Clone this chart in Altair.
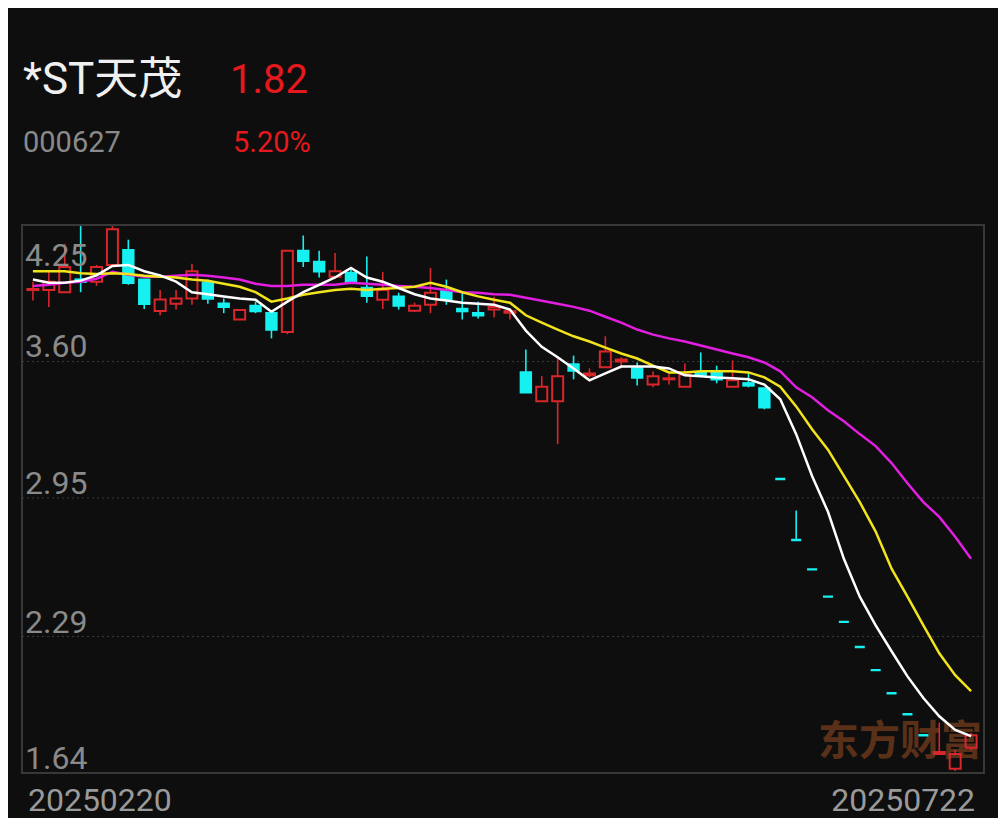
import altair as alt
import pandas as pd

# ---- data ----
opens = [3.94, 3.94, 3.93, 3.99, 3.98, 4.06, 4.13, 3.99, 3.84, 3.875,
         3.90, 3.975, 3.875, 3.80, 3.865, 3.83, 3.74, 4.127, 4.074, 4.003,
         4.022, 3.95, 3.894, 3.908, 3.842, 3.87, 3.937, 3.85, 3.83, 3.847,
         3.832, 3.548, 3.41, 3.41, 3.586, 3.534, 3.572, 3.60, 3.567, 3.49,
         3.515, 3.48, 3.548, 3.548, 3.48, 3.496, 3.472, 3.04, 2.75, 2.61,
         2.48, 2.36, 2.24, 2.13, 2.02, 1.92, 1.82, 1.73, 1.66, 1.76]
highs = [3.98, 4.03, 4.16, 4.245, 4.06, 4.245, 4.18, 3.99, 3.94, 3.94,
         4.065, 3.99, 3.90, 3.845, 3.885, 3.835, 4.13, 4.20, 4.127, 4.117,
         4.04, 4.10, 4.027, 3.927, 3.88, 4.046, 3.99, 3.93, 3.885, 3.908,
         3.845, 3.657, 3.53, 3.62, 3.628, 3.567, 3.72, 3.62, 3.595, 3.552,
         3.54, 3.59, 3.643, 3.58, 3.605, 3.548, 3.472, 3.04, 2.89, 2.61,
         2.48, 2.36, 2.24, 2.13, 2.02, 1.92, 1.82, 1.88, 1.75, 1.83]
lows = [3.89, 3.86, 3.93, 3.93, 3.96, 4.06, 3.965, 3.85, 3.82, 3.847,
        3.87, 3.875, 3.83, 3.80, 3.83, 3.71, 3.73, 4.05, 4.0, 3.994,
        3.98, 3.88, 3.85, 3.847, 3.835, 3.83, 3.87, 3.80, 3.805, 3.81,
        3.80, 3.453, 3.41, 3.206, 3.515, 3.524, 3.572, 3.567, 3.486, 3.477,
        3.49, 3.48, 3.53, 3.496, 3.477, 3.477, 3.372, 3.04, 2.75, 2.61,
        2.48, 2.36, 2.24, 2.13, 2.02, 1.92, 1.82, 1.73, 1.65, 1.75]
closes = [3.945, 3.98, 4.05, 3.98, 4.05, 4.23, 3.975, 3.875, 3.895, 3.90,
          4.03, 3.90, 3.86, 3.845, 3.84, 3.752, 4.127, 4.08, 4.03, 4.03,
          3.98, 3.913, 3.94, 3.866, 3.866, 3.927, 3.894, 3.84, 3.82, 3.86,
          3.84, 3.453, 3.48, 3.53, 3.557, 3.543, 3.647, 3.61, 3.524, 3.53,
          3.52, 3.538, 3.538, 3.515, 3.51, 3.486, 3.382, 3.04, 2.75, 2.61,
          2.48, 2.36, 2.24, 2.13, 2.02, 1.92, 1.82, 1.74, 1.73, 1.82]
ma5 = [3.99, 3.975, 3.975, 3.985, 4.01, 4.055, 4.06, 4.03, 4.01, 3.98,
       3.93, 3.92, 3.91, 3.90, 3.894, 3.837, 3.885, 3.93, 3.965, 4.0,
       4.045, 4.0, 3.98, 3.95, 3.92, 3.90, 3.89, 3.88, 3.875, 3.87,
       3.847, 3.747, 3.67, 3.62, 3.567, 3.51, 3.543, 3.576, 3.576, 3.576,
       3.567, 3.534, 3.53, 3.524, 3.52, 3.515, 3.49, 3.42, 3.254, 3.055,
       2.884, 2.66, 2.48, 2.343, 2.22, 2.10, 1.997, 1.91, 1.845, 1.816]
ma10 = [4.03, 4.03, 4.03, 4.02, 4.017, 4.02, 4.017, 4.008, 4.003, 4.0,
        3.99, 3.984, 3.97, 3.956, 3.93, 3.885, 3.90, 3.918, 3.93, 3.94,
        3.946, 3.94, 3.946, 3.95, 3.956, 3.975, 3.956, 3.93, 3.91, 3.894,
        3.88, 3.82, 3.785, 3.752, 3.72, 3.695, 3.666, 3.638, 3.614, 3.58,
        3.548, 3.548, 3.553, 3.553, 3.553, 3.548, 3.524, 3.48, 3.386, 3.277,
        3.18, 3.055, 2.93, 2.79, 2.613, 2.48, 2.343, 2.21, 2.106, 2.03]
ma20 = [3.96, 3.965, 3.975, 3.98, 3.994, 4.027, 4.013, 4.003, 4.003, 4.008,
        4.013, 4.008, 4.0, 3.99, 3.97, 3.96, 3.96, 3.965, 3.965, 3.965,
        3.975, 3.97, 3.965, 3.96, 3.956, 3.95, 3.94, 3.93, 3.927, 3.92,
        3.918, 3.904, 3.889, 3.875, 3.86, 3.842, 3.813, 3.785, 3.752, 3.728,
        3.71, 3.695, 3.676, 3.657, 3.638, 3.62, 3.595, 3.553, 3.477, 3.43,
        3.368, 3.315, 3.254, 3.197, 3.116, 3.02, 2.93, 2.86, 2.765, 2.66]
y_ticks = [4.25, 3.60, 2.95, 2.29, 1.64]
grid_vals = [3.60, 2.95, 2.29]
date_labels = ["20250220", "20250722"]
stock_name = "*ST天茂"
stock_code = "000627"
last_price = "1.82"
change_pct = "5.20%"
watermark = "东方财富"

# ---- styling ----
BG = "#0e0e0e"
RED = "#d8262b"
CYAN = "#16f0f0"
WHITE = "#ffffff"
YELLOW = "#f2e41c"
MAGENTA = "#e21ee0"
GRAY = "#8a8a8a"
TITLE_RED = "#e5191d"
FONT = "Roboto, 'Noto Sans CJK SC', sans-serif"

n = len(closes)
up = []
for k in range(n):
    o, c = opens[k], closes[k]
    if c > o:
        up.append(True)
    elif c < o:
        up.append(False)
    else:
        up.append(k == 0 or c >= closes[k - 1])

df = pd.DataFrame({
    "i": list(range(n)), "open": opens, "high": highs, "low": lows,
    "close": closes, "up": up, "ma5": ma5, "ma10": ma10, "ma20": ma20,
})
df["top"] = df[["open", "close"]].max(axis=1)
df["bot"] = df[["open", "close"]].min(axis=1)

xs = alt.Scale(domain=[-0.373, 59.498], nice=False, zero=False)
ys = alt.Scale(domain=[1.64, 4.25], nice=False, zero=False)
X = alt.X("i:Q", scale=xs, axis=None)

base = alt.Chart(df)

grid = alt.Chart(pd.DataFrame({"v": grid_vals})).mark_rule(
    color="#3a3a3a", strokeWidth=1, strokeDash=[2, 3]
).encode(y=alt.Y("v:Q", scale=ys, axis=None))

wm = alt.Chart(pd.DataFrame({"t": [watermark]})).mark_text(
    font="'Noto Sans CJK SC'", fontSize=41, fontWeight="bold",
    color="#5a3019", align="center", baseline="middle"
).encode(x=alt.value(878), y=alt.value(518), text="t:N")

col = alt.condition("datum.up", alt.value(RED), alt.value(CYAN))
wick_hi = base.mark_rule(strokeWidth=1.6).encode(
    x=X, y=alt.Y("top:Q", scale=ys, axis=None), y2="high:Q", color=col)
wick_lo = base.mark_rule(strokeWidth=1.6).encode(
    x=X, y=alt.Y("low:Q", scale=ys, axis=None), y2="bot:Q", color=col)

body_up = base.transform_filter("datum.up").mark_bar(
    size=11, fillOpacity=0, stroke=RED, strokeWidth=2
).encode(x=X, y=alt.Y("bot:Q", scale=ys, axis=None), y2="top:Q")
body_dn = base.transform_filter("!datum.up").mark_bar(
    size=10, color=CYAN, stroke=CYAN, strokeWidth=2.4
).encode(x=X, y=alt.Y("bot:Q", scale=ys, axis=None), y2="top:Q")

def ma_line(field, color):
    return base.mark_line(color=color, strokeWidth=2.5).encode(
        x=X, y=alt.Y(f"{field}:Q", scale=ys, axis=None))

lines = ma_line("ma20", MAGENTA) + ma_line("ma10", YELLOW) + ma_line("ma5", WHITE)

tick_df = pd.DataFrame({"v": y_ticks, "lab": [f"{v:.2f}" for v in y_ticks]})
ylab_top = alt.Chart(tick_df).transform_filter("datum.v >= 4.2").mark_text(
    font=FONT, fontSize=32, color=GRAY, align="left", baseline="alphabetic", dy=41
).encode(x=alt.value(3), y=alt.Y("v:Q", scale=ys, axis=None), text="lab:N")
ylab_rest = alt.Chart(tick_df).transform_filter("datum.v < 4.2").mark_text(
    font=FONT, fontSize=32, color=GRAY, align="left", baseline="alphabetic", dy=-4
).encode(x=alt.value(3), y=alt.Y("v:Q", scale=ys, axis=None), text="lab:N")

date_df = pd.DataFrame({"i": [0, n - 1], "d": date_labels})
date_l = alt.Chart(date_df).transform_filter("datum.i == 0").mark_text(
    font=FONT, fontSize=32, color="#9a9a9a", align="left", baseline="alphabetic", dx=-5
).encode(x=X, y=alt.value(586), text="d:N")
date_r = alt.Chart(date_df).transform_filter("datum.i > 0").mark_text(
    font=FONT, fontSize=32, color="#9a9a9a", align="right", baseline="alphabetic", dx=4
).encode(x=X, y=alt.value(586), text="d:N")

def label(txt, x, y, size, color):
    return alt.Chart(pd.DataFrame({"t": [txt]})).mark_text(
        font=FONT, fontSize=size, color=color, align="left", baseline="alphabetic"
    ).encode(x=alt.value(x), y=alt.value(y), text="t:N")

titles = (label(stock_name, 1, -131, 44, "#f0f0f0")
          + label(last_price, 208, -132, 40, TITLE_RED)
          + label(stock_code, 1, -73, 29, GRAY)
          + label(change_pct, 211, -73, 29, TITLE_RED))

chart = alt.layer(
    grid, wm, wick_hi, wick_lo, body_up, body_dn, lines,
    ylab_top, ylab_rest, date_l, date_r, titles
).properties(
    width=962, height=548,
    autosize=alt.AutoSizeParams(type="none"),
    padding={"left": 14, "top": 217, "right": 14, "bottom": 45},
).configure(background=BG).configure_view(stroke="#383838", strokeWidth=2)

chart.save("out.html", embed_options={"renderer": "svg", "actions": False})
